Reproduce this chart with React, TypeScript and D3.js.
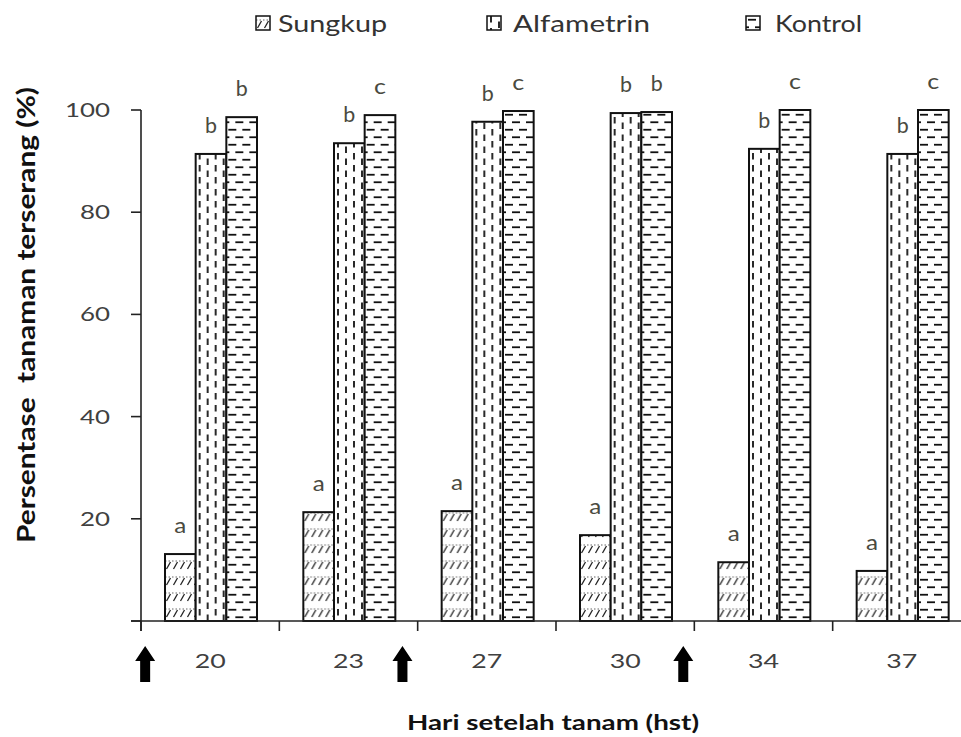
import React from 'react';
import * as d3 from 'd3';

const categories = ['20', '23', '27', '30', '34', '37'];
const seriesNames = ['Sungkup', 'Alfametrin', 'Kontrol'];
const sungkup = [13.1, 21.3, 21.5, 16.8, 11.5, 9.8];
const alfametrin = [91.4, 93.5, 97.7, 99.4, 92.4, 91.4];
const kontrol = [98.6, 99.0, 99.8, 99.6, 100, 100];
const sungkupLetters = ['a', 'a', 'a', 'a', 'a', 'a'];
const alfametrinLetters = ['b', 'b', 'b', 'b', 'b', 'b'];
const kontrolLetters = ['b', 'c', 'c', 'b', 'c', 'c'];
const yTicks = [20, 40, 60, 80, 100];
const arrowPositions = [0.03, 1.89, 3.92];

const W = 961;
const H = 737;
const FONT = 'Lato, "Open Sans", sans-serif';

const seriesValues = [sungkup, alfametrin, kontrol];
const seriesLetters = [sungkupLetters, alfametrinLetters, kontrolLetters];

function PatternDef({ id, kind, x, y }: { id: string; kind: number; x: number; y: number }) {
  if (kind === 0) {
    return (
      <pattern id={id} patternUnits="userSpaceOnUse" x={x} y={y} width={7} height={16}>
        <rect width={7} height={16} fill="#fff" />
        <line x1={1.5} y1={12} x2={5.5} y2={5} stroke="#222" strokeWidth={1.3} />
        <line x1={0} y1={4} x2={7} y2={4} stroke="#555" strokeWidth={0.9} strokeDasharray="1.5,2" />
      </pattern>
    );
  }
  if (kind === 1) {
    return (
      <pattern id={id} patternUnits="userSpaceOnUse" x={x} y={y} width={16} height={12}>
        <rect width={16} height={12} fill="#fff" />
        <line x1={4} y1={0} x2={4} y2={6.5} stroke="#111" strokeWidth={1.8} />
        <line x1={12} y1={5.5} x2={12} y2={12} stroke="#111" strokeWidth={1.8} />
      </pattern>
    );
  }
  return (
    <pattern id={id} patternUnits="userSpaceOnUse" x={x} y={y} width={14} height={15}>
      <rect width={14} height={15} fill="#fff" />
      <line x1={2} y1={3.75} x2={10} y2={3.75} stroke="#111" strokeWidth={1.8} />
      <line x1={9} y1={11.25} x2={14} y2={11.25} stroke="#111" strokeWidth={1.8} />
      <line x1={0} y1={11.25} x2={3} y2={11.25} stroke="#111" strokeWidth={1.8} />
    </pattern>
  );
}

export default function App() {
  const x0 = d3.scaleBand<string>().domain(categories).range([141, 971]);
  const x1 = d3.scaleBand<string>().domain(seriesNames).range([24, 116]);
  const y = d3.scaleLinear().domain([0, 100]).range([621, 110]);
  const bound = d3.scaleLinear().domain([0, categories.length]).range([141, 971]);

  const bars: { key: string; x: number; w: number; y0: number; v: number; kind: number; letter: string }[] = [];
  categories.forEach((c, i) => {
    seriesNames.forEach((s, j) => {
      bars.push({
        key: `${i}-${j}`,
        x: (x0(c) as number) + (x1(s) as number),
        w: x1.bandwidth(),
        y0: y(seriesValues[j][i]),
        v: seriesValues[j][i],
        kind: j,
        letter: seriesLetters[j][i],
      });
    });
  });

  const legendItems = [
    { icon: 256, text: 278, w: 109 },
    { icon: 487, text: 513, w: 137 },
    { icon: 746, text: 775, w: 87 },
  ];

  const arrowPath = (cx: number) => {
    const top = 646, headB = 661, bot = 682;
    return `M${cx},${top} L${cx + 10},${headB} L${cx + 5},${headB} L${cx + 5},${bot} L${cx - 5},${bot} L${cx - 5},${headB} L${cx - 10},${headB} Z`;
  };

  return (
    <svg width={W} height={H} style={{ position: 'absolute', left: 0, top: 0, background: '#fff' }} fontFamily={FONT}>
      <defs>
        {bars.map((b) => (
          <PatternDef key={b.key} id={`p${b.key}`} kind={b.kind} x={b.x} y={621} />
        ))}
        {legendItems.map((l, j) => (
          <PatternDef key={`l${j}`} id={`pl${j}`} kind={j} x={l.icon} y={16} />
        ))}
      </defs>
      <rect width={W} height={H} fill="#fff" />

      {/* legend */}
      {legendItems.map((l, j) => (
        <g key={`leg${j}`}>
          <rect x={l.icon} y={16} width={14} height={14} fill={`url(#pl${j})`} stroke="#111" strokeWidth={1.5} />
          <text x={l.text} y={32} fontSize={24} fill="#333" textLength={l.w} lengthAdjust="spacingAndGlyphs">
            {seriesNames[j]}
          </text>
        </g>
      ))}

      {/* bars */}
      {bars.map((b) => (
        <rect
          key={`bar${b.key}`}
          x={b.x}
          y={b.y0}
          width={b.w}
          height={621 - b.y0}
          fill={`url(#p${b.key})`}
          stroke="#111"
          strokeWidth={2}
        />
      ))}

      {/* significance letters */}
      {bars.map((b) => (
        <text
          key={`let${b.key}`}
          x={b.x + b.w / 2}
          y={b.y0 - 21}
          fontSize={21}
          fill="#4a4a40"
          textAnchor="middle"
          textLength={12}
          lengthAdjust="spacingAndGlyphs"
        >
          {b.letter}
        </text>
      ))}

      {/* y axis */}
      <line x1={141} y1={y(100)} x2={141} y2={631} stroke="#222" strokeWidth={1.6} />
      {[0, ...yTicks].map((t) => (
        <line key={`yt${t}`} x1={131} x2={141} y1={y(t)} y2={y(t)} stroke="#222" strokeWidth={1.6} />
      ))}
      {yTicks.map((t) => (
        <text
          key={`yl${t}`}
          x={110}
          y={y(t) + 7}
          fontSize={20}
          fill="#404040"
          textAnchor="end"
          textLength={String(t).length * 15}
          lengthAdjust="spacingAndGlyphs"
        >
          {t}
        </text>
      ))}

      {/* x axis */}
      <line x1={131} y1={621} x2={W} y2={621} stroke="#222" strokeWidth={1.6} />
      {d3.range(categories.length + 1).map((i) => (
        <line key={`xt${i}`} x1={bound(i)} x2={bound(i)} y1={621} y2={631} stroke="#222" strokeWidth={1.6} />
      ))}
      {categories.map((c) => (
        <text
          key={`xl${c}`}
          x={(x0(c) as number) + x0.bandwidth() / 2}
          y={668}
          fontSize={20}
          fill="#404040"
          textAnchor="middle"
          textLength={c.length * 15.5}
          lengthAdjust="spacingAndGlyphs"
        >
          {c}
        </text>
      ))}

      {/* arrows */}
      {arrowPositions.map((p, i) => (
        <path key={`ar${i}`} d={arrowPath(bound(p))} fill="#000" />
      ))}

      {/* axis titles */}
      <text
        x={553}
        y={730}
        fontSize={21}
        fontWeight="bold"
        fill="#111"
        textAnchor="middle"
        textLength={292}
        lengthAdjust="spacingAndGlyphs"
      >
        Hari setelah tanam (hst)
      </text>
      <text
        transform="translate(35,315) rotate(-90)"
        fontSize={25}
        fontWeight="bold"
        fill="#111"
        textAnchor="middle"
        textLength={456}
        lengthAdjust="spacingAndGlyphs"
        style={{ whiteSpace: 'pre' }}
      >
        {'Persentase  tanaman terserang (%)'}
      </text>
    </svg>
  );
}
